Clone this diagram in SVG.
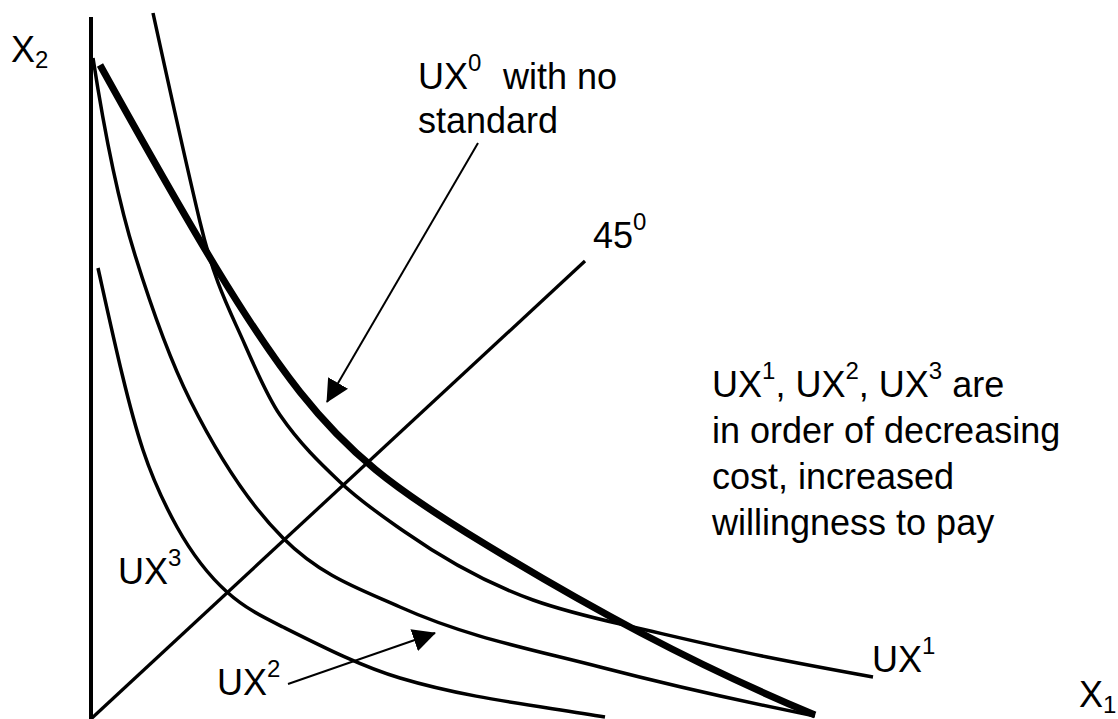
<svg xmlns="http://www.w3.org/2000/svg" width="1118" height="719" viewBox="0 0 1118 719">
<style>
.bg{fill:#fff}
.ln{fill:none;stroke:#000;stroke-linecap:butt;stroke-linejoin:round}
.axis{stroke-width:4}
.diag{stroke-width:3.3}
.thin{stroke-width:3.5}
.thick{stroke-width:7}
.ptr{stroke-width:2;fill:none;stroke:#000}
.t{font-family:"Liberation Sans",Arial,Helvetica,sans-serif;font-size:36px;fill:#000}
.s{font-size:24px}
</style>
<defs>
<marker id="ah" viewBox="0 0 23 23" refX="22" refY="11.5" markerWidth="23" markerHeight="23" markerUnits="userSpaceOnUse" orient="auto">
<path d="M0,0 L23,11.5 L0,23 Z" fill="#000"/>
</marker>
</defs>
<rect class="bg" x="0" y="0" width="1118" height="719"/>

<g id="axis-vertical"><line class="ln axis" x1="91" y1="17" x2="91" y2="719"/></g>
<g id="line-45"><line class="ln diag" x1="92" y1="718" x2="585" y2="261"/></g>

<g id="curve-ux0"><path class="ln thick" d="M100,65 C287,402 324,444 467,533 C587,607 695,665 815,715"/></g>
<g id="curve-ux1"><path class="ln thin" d="M153,13 C168.7,85 184.3,156.2 200,222 C215,285 230,310.5 245,345 C256.7,371.8 268.3,398.1 280,415 C300,444 320,463 340,482 C361.7,502.6 383.3,516.8 405,532 C447.7,561.9 490.3,584.6 533,600 C566.3,612 599.7,619.3 633,627 C677.7,637.3 722.3,648.1 767,657 C802.3,664.1 837.7,670.6 873,677"/></g>
<g id="curve-ux2"><path class="ln thin" d="M93,58 C107,149 121,210.2 135,255 C153.3,313.7 171.7,363.3 190,400 C221,462 252,507 283,538 C322,577 361,589.4 400,607 C466.7,637 533.3,649.7 600,667 C671.7,685.6 743.3,701.7 815,716"/></g>
<g id="curve-ux3"><path class="ln thin" d="M98,268 C113,335.5 128,405 143,450 C154.3,484 165.7,506.6 177,527 C193.7,557 210.3,577 227,592 C245.7,608.8 264.3,617.7 283,627 C322,646.5 361,666.3 400,678 C468.3,698.5 536.7,705.4 605,717"/></g>

<g id="connectors">
<line class="ptr" x1="478" y1="143" x2="327" y2="402" marker-end="url(#ah)"/>
<line class="ptr" x1="288" y1="684" x2="435" y2="633" marker-end="url(#ah)"/>
</g>

<g id="label-x2"><text class="t" x="11" y="62">X<tspan class="s" dy="6">2</tspan></text></g>
<g id="label-x1"><text class="t" x="1079" y="707">X<tspan class="s" dy="6">1</tspan></text></g>
<g id="label-ux0"><text class="t" x="418" y="89">UX<tspan class="s" dy="-18">0</tspan><tspan x="503" dy="18">with no</tspan><tspan x="418" dy="44">standard</tspan></text></g>
<g id="label-45"><text class="t" x="593" y="248">45<tspan class="s" dy="-18">0</tspan></text></g>
<g id="label-note"><text class="t" x="712" y="397">UX<tspan class="s" dy="-18">1</tspan><tspan dy="18">, UX</tspan><tspan class="s" dy="-18">2</tspan><tspan dy="18">, UX</tspan><tspan class="s" dy="-18">3</tspan><tspan dy="18"> are</tspan><tspan x="712" dy="46">in order of decreasing</tspan><tspan x="712" dy="46">cost, increased</tspan><tspan x="712" dy="46">willingness to pay</tspan></text></g>
<g id="label-ux1"><text class="t" x="872" y="672">UX<tspan class="s" dy="-18">1</tspan></text></g>
<g id="label-ux2"><text class="t" x="217" y="695">UX<tspan class="s" dy="-18">2</tspan></text></g>
<g id="label-ux3"><text class="t" x="118" y="584">UX<tspan class="s" dy="-18">3</tspan></text></g>
</svg>
